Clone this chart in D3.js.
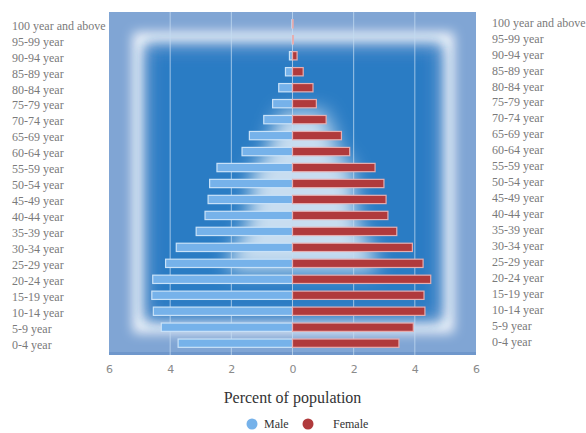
<!DOCTYPE html>
<html>
<head>
<meta charset="utf-8">
<script src="https://cdn.jsdelivr.net/npm/d3@7"></script>
<style>
  html, body { margin: 0; padding: 0; background: #ffffff; }
  svg { display: block; }
</style>
</head>
<body>
<div id="chart"></div>
<script>
// age groups, top to bottom
const ageGroups = ["100 year and above", "95-99 year", "90-94 year", "85-89 year", "80-84 year",
  "75-79 year", "70-74 year", "65-69 year", "60-64 year", "55-59 year", "50-54 year",
  "45-49 year", "40-44 year", "35-39 year", "30-34 year", "25-29 year", "20-24 year",
  "15-19 year", "10-14 year", "5-9 year", "0-4 year"];
const maleValues = [0.02, 0.01, 0.1, 0.23, 0.45, 0.65, 0.94, 1.41, 1.65, 2.47, 2.71,
  2.76, 2.86, 3.15, 3.8, 4.15, 4.57, 4.6, 4.55, 4.29, 3.74];
const femaleValues = [0.02, 0.03, 0.15, 0.35, 0.67, 0.78, 1.1, 1.6, 1.87, 2.7, 2.99,
  3.06, 3.12, 3.41, 3.92, 4.27, 4.52, 4.3, 4.33, 3.95, 3.48];
const xTicks = [-6, -4, -2, 0, 2, 4, 6];
const legendItems = ["Male", "Female"];

const width = 586, height = 433;
const plot = { left: 109, right: 476, top: 12, bottom: 355 };

const svg = d3.select("#chart").append("svg")
  .attr("width", width)
  .attr("height", height)
  .attr("viewBox", `0 0 ${width} ${height}`);

const defs = svg.append("defs");
defs.append("clipPath").attr("id", "plotClip")
  .append("rect")
  .attr("x", plot.left).attr("y", plot.top)
  .attr("width", plot.right - plot.left).attr("height", plot.bottom - plot.top);
defs.append("filter").attr("id", "blurBig")
  .attr("x", "-20%").attr("y", "-20%").attr("width", "140%").attr("height", "140%")
  .append("feGaussianBlur").attr("stdDeviation", 8);
defs.append("filter").attr("id", "blurSoft")
  .attr("x", "-20%").attr("y", "-20%").attr("width", "140%").attr("height", "140%")
  .append("feGaussianBlur").attr("stdDeviation", 6);
defs.append("filter").attr("id", "blurGlow")
  .attr("x", "-30%").attr("y", "-30%").attr("width", "160%").attr("height", "160%")
  .append("feGaussianBlur").attr("stdDeviation", 10);

// scales
const x = d3.scaleLinear().domain([-6, 6]).range([plot.left, plot.right]);
const y = d3.scaleBand().domain(ageGroups).range([plot.top, plot.bottom]).padding(0.48);

// background
const bg = svg.append("g").attr("clip-path", "url(#plotClip)");
const pw = plot.right - plot.left, ph = plot.bottom - plot.top;
bg.append("rect")
  .attr("x", plot.left).attr("y", plot.top)
  .attr("width", pw).attr("height", ph)
  .attr("fill", "#80a5d4");
const fr = { x: plot.left + pw * 0.08, y: plot.top + ph * 0.075, w: pw * 0.845, h: ph * 0.845 };
bg.append("rect")
  .attr("x", fr.x).attr("y", fr.y).attr("width", fr.w).attr("height", fr.h)
  .attr("fill", "none")
  .attr("stroke", "#ffffff")
  .attr("stroke-width", 10)
  .attr("filter", "url(#blurSoft)");
bg.append("rect")
  .attr("x", fr.x + 10).attr("y", fr.y + 10).attr("width", fr.w - 20).attr("height", fr.h - 20)
  .attr("fill", "#2a7cc4")
  .attr("filter", "url(#blurBig)");

// soft white ghost of the pyramid
const ghost = bg.append("g").attr("filter", "url(#blurGlow)").attr("opacity", 0.75);
ghost.selectAll("rect.gm")
  .data(ageGroups.slice(6, 16))
  .join("rect")
  .attr("x", (d, i) => x(-maleValues[i + 6] * 0.5))
  .attr("y", d => y(d) - 4)
  .attr("width", (d, i) => x(maleValues[i + 6] * 0.5) - x(-maleValues[i + 6] * 0.5) + 20)
  .attr("height", y.bandwidth() + 8)
  .attr("fill", "#ffffff");
bg.append("rect")
  .attr("x", plot.left).attr("y", plot.bottom - 3)
  .attr("width", pw).attr("height", 3)
  .attr("fill", "#6f97cb");

// grid lines
bg.selectAll("line.grid")
  .data(xTicks.filter(t => Math.abs(t) < 6))
  .join("line")
  .attr("x1", d => x(d)).attr("x2", d => x(d))
  .attr("y1", plot.top).attr("y2", plot.bottom)
  .attr("stroke", "#c4dcf2")
  .attr("stroke-opacity", 0.75)
  .attr("stroke-width", 1);

// bars
const bars = svg.append("g");
bars.selectAll("rect.male")
  .data(ageGroups)
  .join("rect")
  .attr("class", "male")
  .attr("x", (d, i) => x(-maleValues[i]))
  .attr("y", d => y(d))
  .attr("width", (d, i) => x(0) - x(-maleValues[i]))
  .attr("height", y.bandwidth())
  .attr("fill", "#76b2ea")
  .attr("stroke", "#c9e2f8")
  .attr("stroke-width", 1.2);
bars.selectAll("rect.female")
  .data(ageGroups)
  .join("rect")
  .attr("class", "female")
  .attr("x", x(0))
  .attr("y", d => y(d))
  .attr("width", (d, i) => x(femaleValues[i]) - x(0))
  .attr("height", y.bandwidth())
  .attr("fill", "#b03a3c")
  .attr("stroke", "#e6aeb0")
  .attr("stroke-width", 1.2);

// category labels
const labelFont = "Liberation Serif, Times New Roman, serif";
svg.append("g").selectAll("text")
  .data(ageGroups)
  .join("text")
  .attr("x", 12)
  .attr("y", d => y(d) + y.bandwidth() / 2 + 2)
  .attr("dy", "0.32em")
  .style("font-family", labelFont)
  .style("font-size", "12px")
  .attr("fill", "#7a7a7a")
  .text(d => d);
svg.append("g").selectAll("text")
  .data(ageGroups)
  .join("text")
  .attr("x", 492)
  .attr("y", d => y(d) + y.bandwidth() / 2 - 1)
  .attr("dy", "0.32em")
  .style("font-family", labelFont)
  .style("font-size", "12px")
  .attr("fill", "#7a7a7a")
  .text(d => d);

// x axis
const xAxis = d3.axisBottom(x).tickValues(xTicks).tickFormat(d => Math.abs(d)).tickSize(0).tickPadding(10);
const ax = svg.append("g").attr("transform", `translate(0, ${plot.bottom})`).call(xAxis);
ax.select(".domain").remove();
ax.selectAll("text")
  .style("font-family", "DejaVu Sans, sans-serif")
  .style("font-size", "11px")
  .attr("fill", "#8a8a8a");

// axis title
svg.append("text")
  .attr("x", x(0))
  .attr("y", 403)
  .attr("text-anchor", "middle")
  .style("font-family", labelFont)
  .style("font-size", "16px")
  .attr("fill", "#333333")
  .text("Percent of population");

// legend
const legendColors = ["#76b2ea", "#b03a3c"];
const legendX = [252, 308];
const legend = svg.append("g");
legend.selectAll("circle")
  .data(legendItems)
  .join("circle")
  .attr("cx", (d, i) => legendX[i])
  .attr("cy", 424)
  .attr("r", 5.5)
  .attr("fill", (d, i) => legendColors[i]);
legend.selectAll("text")
  .data(legendItems)
  .join("text")
  .attr("x", (d, i) => legendX[i] + 12 + i * 13)
  .attr("y", 424)
  .attr("dy", "0.35em")
  .style("font-family", labelFont)
  .style("font-size", "12px")
  .attr("fill", "#333333")
  .text(d => d);
</script>
</body>
</html>
